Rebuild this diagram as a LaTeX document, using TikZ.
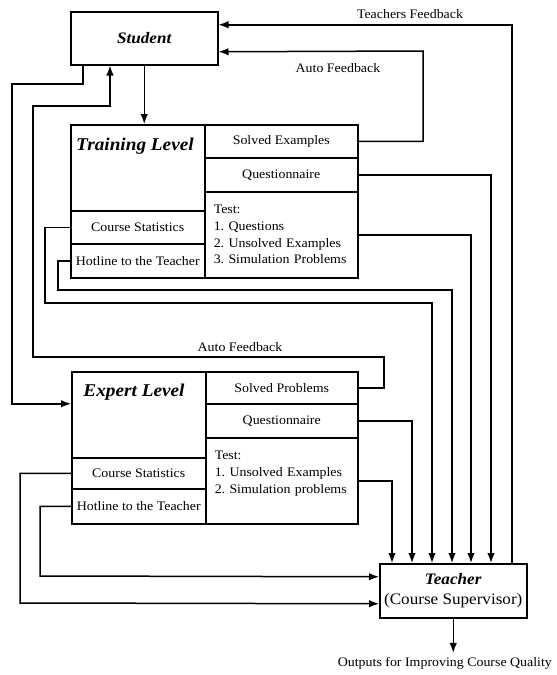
\documentclass[tikz,border=0pt]{standalone}
\usepackage{fontspec}
\setmainfont{Liberation Serif}[FakeStretch=1.07]
\usetikzlibrary{arrows.meta}
\begin{document}
\begin{tikzpicture}[x = 1pt, y = -1pt, line width = 1.5pt,
	>={Latex[length=10pt,width=7.5pt]},
	cell/.style={draw, anchor=north west, inner sep=0pt, font=\fontsize{13}{16.7}\selectfont},
	lvl/.style={anchor=base, font=\fontsize{18}{20}\selectfont\bfseries\itshape},
	lbl/.style={font=\fontsize{13}{16}\selectfont}]
\useasboundingbox (0,0) rectangle (557,675);
\node [cell, minimum width=147pt, minimum height=53pt, font=\fontsize{16}{18}\selectfont\bfseries\itshape] (student) at (70,11) {Student};
\node [cell, minimum width=147pt, minimum height=54pt, align=center, font=\fontsize{16}{20}\selectfont] (teacher) at (379,563) {\textbf{\textit{Teacher}}\\(Course Supervisor)};
\node [cell, minimum width=134pt, minimum height=86pt] (trtitle) at (70,124) {};
\node [lvl] (trname) at (135,150) {Training Level};
\node [cell, minimum width=134pt, minimum height=33pt] (trstat) at (70,210) {Course Statistics};
\node [cell, minimum width=134pt, minimum height=34pt] (trhot) at (70,243) {Hotline to the Teacher};
\node [cell, minimum width=153pt, minimum height=33pt] (trsolved) at (204,124) {Solved Examples};
\node [cell, minimum width=153pt, minimum height=34pt] (trquest) at (204,157) {Questionnaire};
\node [cell, minimum height=86pt, text width=135pt, inner xsep=9pt, align=left] (trtest) at (204,191)
	{Test:\\1.\ Questions\\2.\ Unsolved Examples\\3.\ Simulation Problems};
\node [cell, minimum width=134pt, minimum height=86pt] (extitle) at (71,371) {};
\node [lvl] (exname) at (134,396) {Expert Level};
\node [cell, minimum width=134pt, minimum height=31pt] (exstat) at (71,457) {Course Statistics};
\node [cell, minimum width=134pt, minimum height=35pt] (exhot) at (71,488) {Hotline to the Teacher};
\node [cell, minimum width=152pt, minimum height=32pt] (exsolved) at (205,371) {Solved Problems};
\node [cell, minimum width=152pt, minimum height=34pt] (exquest) at (205,403) {Questionnaire};
\node [cell, minimum height=86pt, text width=134pt, inner xsep=9pt, align=left] (extest) at (205,437)
	{Test:\\1.\ Unsolved Examples\\2.\ Simulation problems\\\mbox{}};
\node [lbl] (tfb) at (410,14) {Teachers Feedback};
\node [lbl] (afb1) at (338,68) {Auto Feedback};
\node [lbl] (afb2) at (240,347) {Auto Feedback};
\node [lbl, anchor=east] (outputs) at (556,663) {Outputs for Improving Course Quality};
\draw[->] (student.south) -- (student.south |- trtitle.north);
\draw[->] ([xshift=13pt]student.south west) |- (12,84) |- ([yshift=11pt]extitle.west);
\draw[->] (exsolved.east) -| (384,357) -| (33,106) -| ([xshift=40pt]student.south west);
\draw[->] (trsolved.east) -| (423,51) -- ([yshift=-13.5pt]student.east);
\draw[->] ([xshift=133pt]teacher.north west) |- ([yshift=13.5pt]student.east);
\draw[->] (trquest.east) -| ([xshift=112pt]teacher.north west);
\draw[->] (trtest.east) -| ([xshift=92pt]teacher.north west);
\draw[->] (trhot.west) -| (58,290) -| ([xshift=73pt]teacher.north west);
\draw[->] (trstat.west) -| (45,303) -| ([xshift=53pt]teacher.north west);
\draw[->] (exquest.east) -| ([xshift=33pt]teacher.north west);
\draw[->] (extest.east) -| ([xshift=13pt]teacher.north west);
\draw[->] (exhot.west) -| (40,576) -- ([yshift=14pt]teacher.west);
\draw[->] (exstat.west) -| (20,603) -- ([yshift=-13pt]teacher.west);
\draw[->] (teacher.south) -- (teacher.south |- outputs.north);
\end{tikzpicture}
\end{document}
